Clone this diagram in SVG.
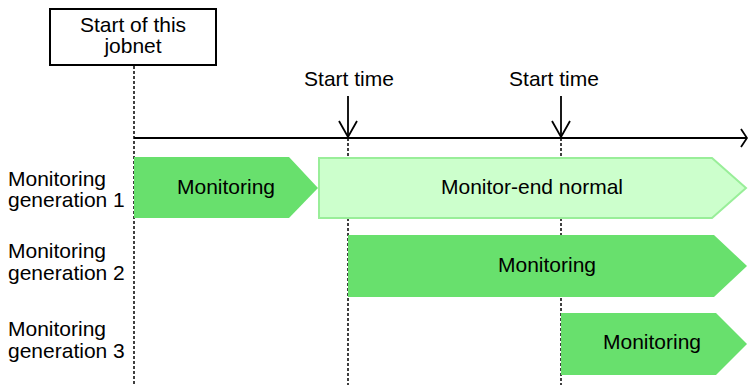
<svg xmlns="http://www.w3.org/2000/svg" width="748" height="385" viewBox="0 0 748 385">
<style>
text{font-family:"Liberation Sans",Arial,sans-serif;font-size:21px;fill:#000}
.c{text-anchor:middle}
.dash{stroke:#000;stroke-width:1.5;stroke-dasharray:3 2;fill:none}
.line{stroke:#000;stroke-width:1.8;fill:none}
.mon{fill:#68E06D}
.done{fill:#CCFFCC;stroke:#99EE99;stroke-width:2}
</style>
<rect width="748" height="385" fill="#fff"/>
<g id="connectors">
<line class="dash" x1="134" y1="66" x2="134" y2="385"/>
<line class="dash" x1="348" y1="138" x2="348" y2="385"/>
<line class="dash" x1="561" y1="138" x2="561" y2="385"/>
<line class="line" x1="134" y1="138" x2="747" y2="138"/>
<polyline class="line" points="741,129 747,138 741,147"/>
<line class="line" x1="348" y1="96" x2="348" y2="137"/>
<polyline class="line" points="339,121 348,137 357,121"/>
<line class="line" x1="561" y1="96" x2="561" y2="137"/>
<polyline class="line" points="552,121 561,137 570,121"/>
</g>
<g id="start-jobnet">
<rect x="50" y="9" width="166" height="56" fill="#fff" stroke="#000" stroke-width="2"/>
<text class="c" x="133" y="32">Start of this</text>
<text class="c" x="133" y="53">jobnet</text>
</g>
<g id="start-time-1"><text class="c" x="349" y="86">Start time</text></g>
<g id="start-time-2"><text class="c" x="554" y="86">Start time</text></g>
<g id="label-gen1"><text x="8" y="186">Monitoring</text><text x="8" y="207">generation 1</text></g>
<g id="label-gen2"><text x="8" y="258">Monitoring</text><text x="8" y="280">generation 2</text></g>
<g id="label-gen3"><text x="8" y="336">Monitoring</text><text x="8" y="358">generation 3</text></g>
<g id="gen1-monitoring">
<polygon class="mon" points="134,157 289,157 318,188 289,218 134,218"/>
<text class="c" x="226" y="194">Monitoring</text>
</g>
<g id="gen1-end-normal">
<polygon class="done" points="319,158 712,158 746,188 712,218 319,218"/>
<text class="c" x="532" y="194">Monitor-end normal</text>
</g>
<g id="gen2-monitoring">
<polygon class="mon" points="348,235 714,235 747,266 714,297 348,297"/>
<text class="c" x="547" y="272">Monitoring</text>
</g>
<g id="gen3-monitoring">
<polygon class="mon" points="561,313 716,313 747,344 716,375 561,375"/>
<text class="c" x="652" y="349">Monitoring</text>
</g>
</svg>
